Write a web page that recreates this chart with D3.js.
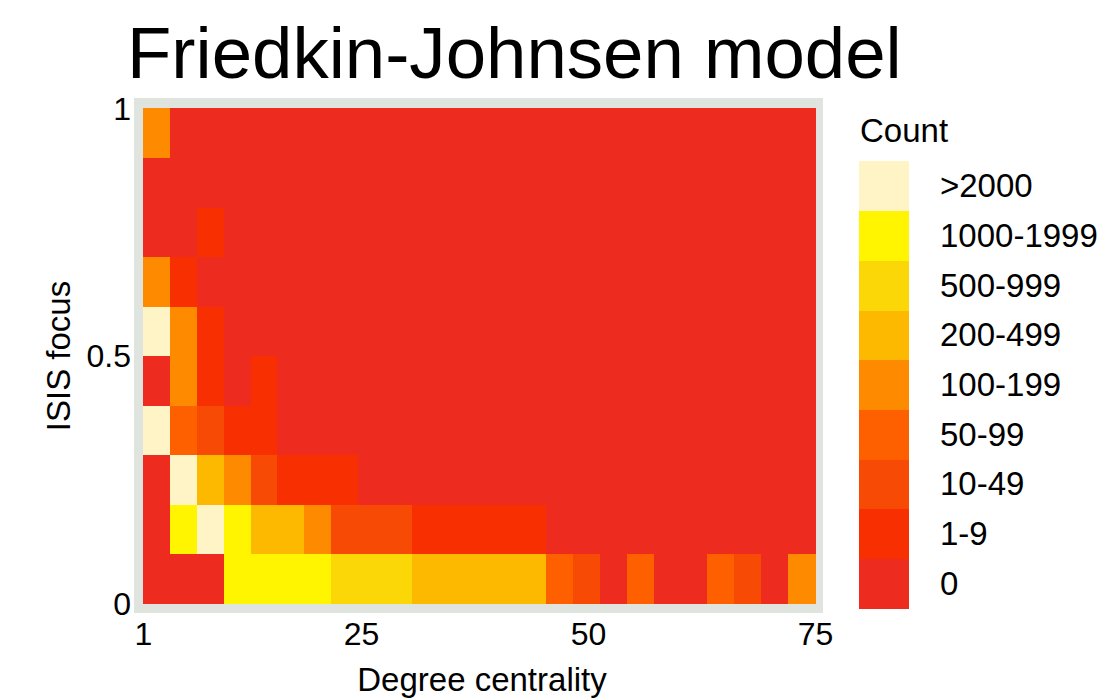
<!DOCTYPE html>
<html>
<head>
<meta charset="utf-8">
<script src="https://cdn.jsdelivr.net/npm/d3@7"></script>
<style>
  html, body { margin: 0; padding: 0; background: #ffffff; }
  svg { display: block; font-family: "Liberation Sans", Arial, Helvetica, sans-serif; }
</style>
</head>
<body>
<svg id="chart" width="1101" height="698"></svg>
<script>
// Count classes, lowest to highest, and their colours
const countLabels = ["0", "1-9", "10-49", "50-99", "100-199", "200-499", "500-999", "1000-1999", ">2000"];
const countColors = ["#ee2b1f", "#f82f00", "#f74b05", "#fe6000", "#fe8a00", "#fdb900", "#fbd707", "#fff500", "#fef4c6"];

// Degree-centrality bins (3 degrees each) and ISIS-focus bins (0.1 each)
const degreeBins = d3.range(25).map(i => 1 + 3 * i);
const focusBins = d3.range(10).map(i => +(i / 10).toFixed(1));

// Count class per cell: one array per ISIS-focus bin, one entry per degree bin
const focus00 = [0, 0, 0, 7, 7, 7, 7, 6, 6, 6, 5, 5, 5, 5, 5, 3, 2, 0, 3, 0, 0, 3, 2, 0, 4];
const focus01 = [0, 7, 8, 7, 5, 5, 4, 2, 2, 2, 1, 1, 1, 1, 1, 0, 0, 0, 0, 0, 0, 0, 0, 0, 0];
const focus02 = [0, 8, 5, 4, 2, 1, 1, 1, 0, 0, 0, 0, 0, 0, 0, 0, 0, 0, 0, 0, 0, 0, 0, 0, 0];
const focus03 = [8, 3, 2, 1, 1, 0, 0, 0, 0, 0, 0, 0, 0, 0, 0, 0, 0, 0, 0, 0, 0, 0, 0, 0, 0];
const focus04 = [0, 4, 1, 0, 1, 0, 0, 0, 0, 0, 0, 0, 0, 0, 0, 0, 0, 0, 0, 0, 0, 0, 0, 0, 0];
const focus05 = [8, 4, 1, 0, 0, 0, 0, 0, 0, 0, 0, 0, 0, 0, 0, 0, 0, 0, 0, 0, 0, 0, 0, 0, 0];
const focus06 = [4, 1, 0, 0, 0, 0, 0, 0, 0, 0, 0, 0, 0, 0, 0, 0, 0, 0, 0, 0, 0, 0, 0, 0, 0];
const focus07 = [0, 0, 1, 0, 0, 0, 0, 0, 0, 0, 0, 0, 0, 0, 0, 0, 0, 0, 0, 0, 0, 0, 0, 0, 0];
const focus08 = [0, 0, 0, 0, 0, 0, 0, 0, 0, 0, 0, 0, 0, 0, 0, 0, 0, 0, 0, 0, 0, 0, 0, 0, 0];
const focus09 = [4, 0, 0, 0, 0, 0, 0, 0, 0, 0, 0, 0, 0, 0, 0, 0, 0, 0, 0, 0, 0, 0, 0, 0, 0];
const focusRows = [focus00, focus01, focus02, focus03, focus04, focus05, focus06, focus07, focus08, focus09];

// Axis ticks
const xTicks = [1, 25, 50, 75];
const yTicks = [0, 0.5, 1];
const yTickLabels = ["0", "0.5", "1"];

const svg = d3.select("#chart");

const plot = { left: 143, right: 815, top: 108, bottom: 603 };

const xBand = d3.scaleBand().domain(degreeBins).range([plot.left, plot.right]);
const yBand = d3.scaleBand().domain(focusBins).range([plot.bottom, plot.top]);
const xLin = d3.scaleLinear().domain([1, 75]).range([plot.left, plot.right]);
const yLin = d3.scaleLinear().domain([0, 1]).range([plot.bottom, plot.top]);
const color = d3.scaleOrdinal().domain(d3.range(countLabels.length)).range(countColors);

// Frame around the heat map
svg.append("rect")
  .attr("x", plot.left - 9).attr("y", plot.top - 10)
  .attr("width", plot.right - plot.left + 17).attr("height", plot.bottom - plot.top + 20)
  .attr("fill", "#e0e4df");

// Cells
const cells = [];
focusRows.forEach((row, yi) => {
  row.forEach((cls, xi) => cells.push({ deg: degreeBins[xi], focus: focusBins[yi], cls }));
});

svg.append("g")
  .attr("shape-rendering", "crispEdges")
  .selectAll("rect")
  .data(cells)
  .join("rect")
  .attr("x", d => xBand(d.deg))
  .attr("y", d => yBand(d.focus))
  .attr("width", xBand.bandwidth() + 0.6)
  .attr("height", yBand.bandwidth() + 0.6)
  .attr("fill", d => color(d.cls));

const font = "Liberation Sans, Arial, sans-serif";

// Axes (labels only)
const xAxis = d3.axisBottom(xLin).tickValues(xTicks).tickSize(0).tickPadding(0);
svg.append("g")
  .attr("transform", `translate(0, ${plot.bottom + 42})`)
  .call(xAxis)
  .call(g => g.select(".domain").remove())
  .call(g => g.selectAll("text").attr("font-size", 32).attr("fill", "#000")
    .attr("font-family", font).attr("dy", 0));

const yAxis = d3.axisLeft(yLin).tickValues(yTicks).tickFormat((d, i) => yTickLabels[i]).tickSize(0).tickPadding(12);
svg.append("g")
  .attr("transform", `translate(${plot.left}, 0)`)
  .call(yAxis)
  .call(g => g.select(".domain").remove())
  .call(g => g.selectAll("text").attr("font-size", 32).attr("fill", "#000")
    .attr("font-family", font).attr("dy", "0.35em"));

// Axis titles
svg.append("text")
  .attr("x", 482).attr("y", 691)
  .attr("text-anchor", "middle")
  .attr("font-size", 33)
  .text("Degree centrality");

svg.append("text")
  .attr("transform", `translate(70, 356) rotate(-90)`)
  .attr("text-anchor", "middle")
  .attr("font-size", 33)
  .text("ISIS focus");

// Title
svg.append("text")
  .attr("x", 127).attr("y", 78)
  .attr("font-size", 72.6)
  .text("Friedkin-Johnsen model");

// Legend
const legendTop = 161, legendBottom = 608;
const legendScale = d3.scaleBand()
  .domain(d3.range(countLabels.length).reverse())
  .range([legendTop, legendBottom]);

const legend = svg.append("g");
legend.append("text")
  .attr("x", 860).attr("y", 142)
  .attr("font-size", 33)
  .text("Count");

legend.append("g")
  .attr("shape-rendering", "crispEdges")
  .selectAll("rect")
  .data(d3.range(countLabels.length))
  .join("rect")
  .attr("x", 859).attr("width", 50)
  .attr("y", d => legendScale(d))
  .attr("height", legendScale.bandwidth() + 0.6)
  .attr("fill", d => countColors[d]);

legend.selectAll("text.lab")
  .data(d3.range(countLabels.length))
  .join("text")
  .attr("class", "lab")
  .attr("x", 940)
  .attr("y", d => legendScale(d) + legendScale.bandwidth() / 2)
  .attr("dy", "0.35em")
  .attr("font-size", 33)
  .text(d => countLabels[d]);
</script>
</body>
</html>
